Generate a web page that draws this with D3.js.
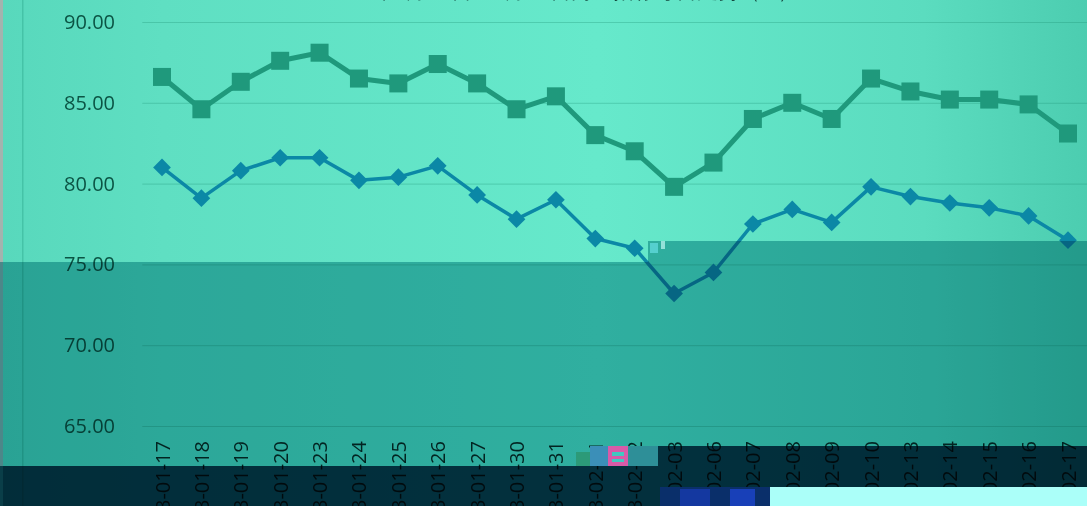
<!DOCTYPE html>
<html lang="zh">
<head>
  <meta charset="UTF-8">
  <title>指数走势</title>
  <script src="https://d3js.org/d3.v7.min.js"></script>
  <style>
    body { margin: 0; overflow: hidden; background: #62e2c5; }
    svg { display: block; }
    text { font-family: "Open Sans", "Liberation Sans", sans-serif; }
  </style>
</head>
<body>
  <script>
    const dates = [
      "2023-01-17", "2023-01-18", "2023-01-19", "2023-01-20", "2023-01-23", "2023-01-24",
      "2023-01-25", "2023-01-26", "2023-01-27", "2023-01-30", "2023-01-31", "2023-02-01",
      "2023-02-02", "2023-02-03", "2023-02-06", "2023-02-07", "2023-02-08", "2023-02-09",
      "2023-02-10", "2023-02-13", "2023-02-14", "2023-02-15", "2023-02-16", "2023-02-17"
    ];
    const seriesA = [86.6, 84.6, 86.3, 87.6, 88.1, 86.5, 86.2, 87.4, 86.2, 84.6, 85.4, 83.0,
                     82.0, 79.8, 81.3, 84.0, 85.0, 84.0, 86.5, 85.7, 85.2, 85.2, 84.9, 83.1];
    const seriesB = [81.0, 79.1, 80.8, 81.6, 81.6, 80.2, 80.4, 81.1, 79.3, 77.8, 79.0, 76.6,
                     76.0, 73.2, 74.5, 77.5, 78.4, 77.6, 79.8, 79.2, 78.8, 78.5, 78.0, 76.5];
    const yTicks = [65, 70, 75, 80, 85, 90];
    const title = "2023年1月17日至2月17日两组指标每日走势（%）";

    const W = 1087, H = 506;
    const svg = d3.select("body").append("svg").attr("width", W).attr("height", H);
    const defs = svg.append("defs");

    const grad = defs.append("linearGradient").attr("id", "bg").attr("x1", 0).attr("x2", 1).attr("y1", 0).attr("y2", 0);
    grad.append("stop").attr("offset", "0%").attr("stop-color", "#58d8bc");
    grad.append("stop").attr("offset", "15%").attr("stop-color", "#5fdfc2");
    grad.append("stop").attr("offset", "55%").attr("stop-color", "#66e9cb");
    grad.append("stop").attr("offset", "85%").attr("stop-color", "#5bdcbf");
    grad.append("stop").attr("offset", "100%").attr("stop-color", "#4ccdb0");

    svg.append("rect").attr("width", W).attr("height", H).attr("fill", "url(#bg)");
    // left frame
    svg.append("rect").attr("x", 0).attr("width", 3).attr("height", H).attr("fill", "#a3b3ae");
    svg.append("rect").attr("x", 22).attr("width", 1.5).attr("height", H).attr("fill", "#45c3a7");

    const x = d3.scalePoint().domain(dates).range([162, 1068]);
    const y = d3.scaleLinear().domain([65, 90]).range([426, 22]);
    const step = x.step();

    // gridlines
    svg.append("g")
      .selectAll("line")
      .data(yTicks)
      .join("line")
      .attr("x1", x(dates[0]) - step / 2)
      .attr("x2", x(dates[dates.length - 1]) + step / 2)
      .attr("y1", d => y(d) + 0.5)
      .attr("y2", d => y(d) + 0.5)
      .attr("stroke", "#1a8f72")
      .attr("stroke-opacity", 0.3)
      .attr("stroke-width", 1);

    // y axis labels
    const yAxis = d3.axisLeft(y).tickValues(yTicks).tickFormat(d3.format(".2f")).tickSize(0).tickPadding(0);
    svg.append("g")
      .attr("transform", "translate(115,0)")
      .call(yAxis)
      .call(g => g.select(".domain").remove())
      .selectAll("text")
      .attr("font-size", 20)
      .attr("font-family", "Open Sans, sans-serif")
      .attr("fill", "#0b5444");

    // x axis labels (rotated)
    const xAxis = d3.axisBottom(x).tickSize(0).tickPadding(0);
    svg.append("g")
      .attr("transform", "translate(0,441)")
      .call(xAxis)
      .call(g => g.select(".domain").remove())
      .selectAll("text")
      .attr("font-size", 20)
      .attr("font-family", "Open Sans, sans-serif")
      .attr("fill", "#04302a")
      .attr("text-anchor", "end")
      .attr("transform", "rotate(-90)")
      .attr("x", 0)
      .attr("y", 0)
      .attr("dy", "0.35em");

    // title (mostly off the top)
    svg.append("text")
      .attr("x", 562)
      .attr("y", -2)
      .attr("text-anchor", "middle")
      .attr("font-size", 21)
      .attr("font-family", "Noto Sans CJK SC, sans-serif")
      .attr("fill", "#12463c")
      .text(title);

    const line = d3.line().x((d, i) => x(dates[i])).y(d => y(d));

    // series A: squares
    svg.append("path")
      .datum(seriesA)
      .attr("d", line)
      .attr("fill", "none")
      .attr("stroke", "#1f997c")
      .attr("stroke-width", 5)
      .attr("stroke-linejoin", "round");
    svg.append("g")
      .selectAll("rect")
      .data(seriesA)
      .join("rect")
      .attr("x", (d, i) => x(dates[i]) - 9)
      .attr("y", d => y(d) - 9)
      .attr("width", 18)
      .attr("height", 18)
      .attr("fill", "#1f997c");

    // series B: diamonds
    svg.append("path")
      .datum(seriesB)
      .attr("d", line)
      .attr("fill", "none")
      .attr("stroke", "#0b88a6")
      .attr("stroke-width", 3.5)
      .attr("stroke-linejoin", "round");
    svg.append("g")
      .selectAll("path")
      .data(seriesB)
      .join("path")
      .attr("d", d3.symbol(d3.symbolDiamond2, 200))
      .attr("transform", (d, i) => `translate(${x(dates[i])},${y(d)})`)
      .attr("fill", "#0b88a6");

    // darker lower band (multiply)
    svg.append("path")
      .attr("d", `M0,262 H648 V241 H${W} V${H} H0 Z`)
      .attr("fill", "#76c0c9")
      .style("mix-blend-mode", "multiply");

    // glitch bits near the break
    svg.append("rect").attr("x", 650).attr("y", 243).attr("width", 8).attr("height", 10).attr("fill", "#6fe6ee").attr("opacity", 0.6);
    svg.append("rect").attr("x", 661).attr("y", 241).attr("width", 4).attr("height", 8).attr("fill", "#bff6f2").attr("opacity", 0.7);

    // dark bottom strip (multiply)
    svg.append("path")
      .attr("d", `M0,466 H658 V446 H${W} V${H} H0 Z`)
      .attr("fill", "#0b4662")
      .style("mix-blend-mode", "multiply");
    svg.append("rect").attr("x", 0).attr("y", 466).attr("width", 3).attr("height", 40).attr("fill", "#0a3e48");

    // glitch blocks
    svg.append("rect").attr("x", 576).attr("y", 452).attr("width", 14).attr("height", 14).attr("fill", "#2c9a78");
    svg.append("rect").attr("x", 590).attr("y", 446).attr("width", 18).attr("height", 20).attr("fill", "#3b8fb8");
    svg.append("rect").attr("x", 608).attr("y", 446).attr("width", 20).attr("height", 20).attr("fill", "#d85aa8");
    svg.append("rect").attr("x", 612).attr("y", 452).attr("width", 12).attr("height", 4).attr("fill", "#40c8c0");
    svg.append("rect").attr("x", 612).attr("y", 459).attr("width", 12).attr("height", 3).attr("fill", "#40c8c0");
    svg.append("rect").attr("x", 628).attr("y", 446).attr("width", 30).attr("height", 20).attr("fill", "#2e8f98");
    svg.append("rect").attr("x", 660).attr("y", 487).attr("width", 110).attr("height", 19).attr("fill", "#0a2f6a");
    svg.append("rect").attr("x", 680).attr("y", 489).attr("width", 30).attr("height", 17).attr("fill", "#1438a0");
    svg.append("rect").attr("x", 730).attr("y", 489).attr("width", 25).attr("height", 17).attr("fill", "#1840b8");
    svg.append("rect").attr("x", 770).attr("y", 487).attr("width", W - 770).attr("height", 19).attr("fill", "#abfff9");
  </script>
</body>
</html>
